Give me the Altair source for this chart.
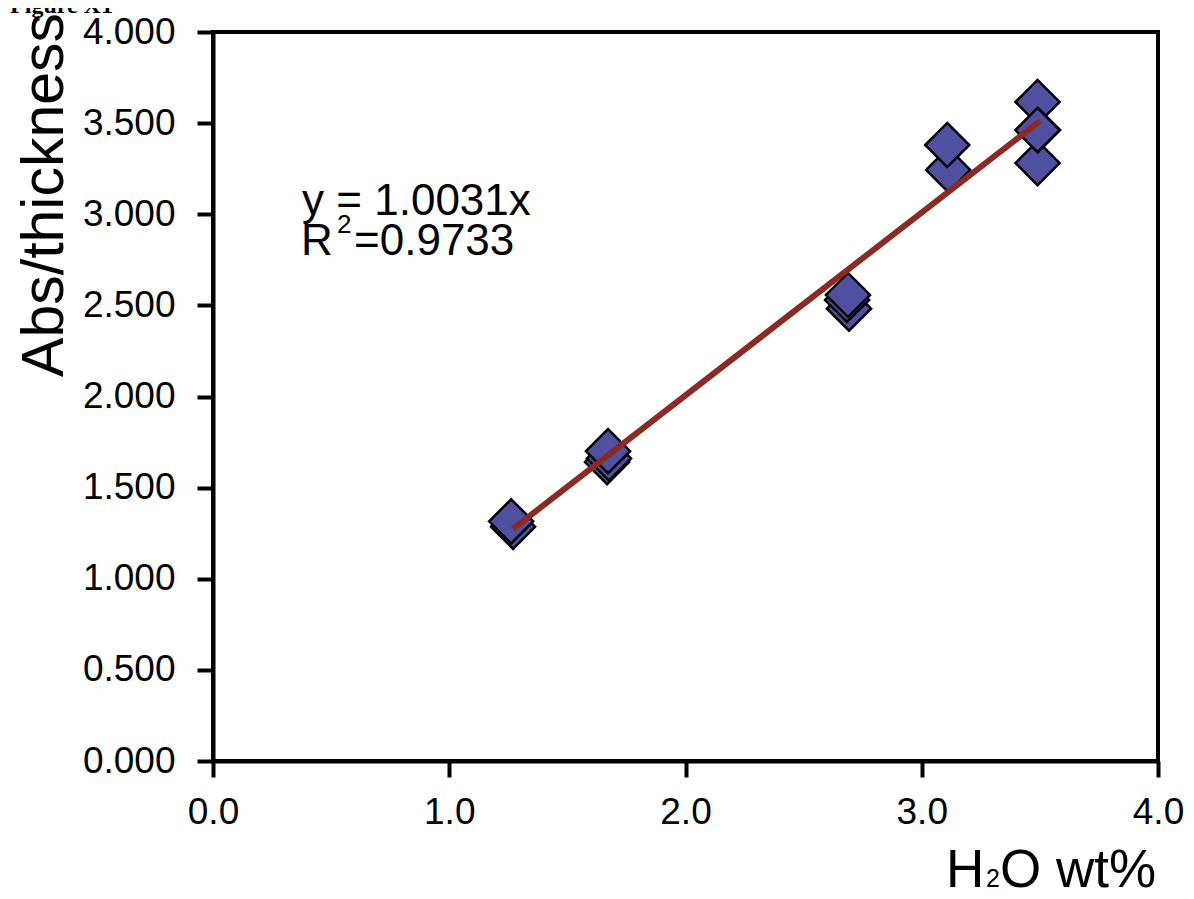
import pandas as pd
import altair as alt

# measured points (H2O wt%, Abs/thickness)
h2o = [1.270, 1.262, 1.668, 1.676, 1.672, 2.692, 2.684, 2.688, 3.112, 3.108, 3.490, 3.490, 3.492, 3.490]
abs_thk = [1.285, 1.315, 1.640, 1.660, 1.700, 2.482, 2.530, 2.557, 3.243, 3.380, 3.616, 3.281, 3.462, 3.462]

# fitted line y = 1.0031x, end points
fit_x = [1.27, 3.50]
fit_y = [1.274, 3.511]

x_ticks = [0, 1, 2, 3, 4]
y_ticks = [0, 0.5, 1, 1.5, 2, 2.5, 3, 3.5, 4]

FONT = "Liberation Sans"

pts = pd.DataFrame({"x": h2o, "y": abs_thk})
fit = pd.DataFrame({"x": fit_x, "y": fit_y})

xs = alt.Scale(domain=[0, 4], nice=False)
ys = alt.Scale(domain=[0, 4], nice=False)

base_x = alt.X(
    "x:Q", scale=xs, title=None,
    axis=alt.Axis(values=x_ticks, format=".1f", labelFlush=False, labelPadding=17),
)
base_y = alt.Y(
    "y:Q", scale=ys, title=None,
    axis=alt.Axis(values=y_ticks, format=".3f", labelPadding=22),
)

points = alt.Chart(pts).mark_point(
    shape="diamond", filled=True, fill="#5050A0", stroke="black",
    strokeWidth=2.5, size=1950, opacity=1,
).encode(x=base_x, y=base_y)

line = alt.Chart(fit).mark_line(color="#8B2A23", strokeWidth=6).encode(
    x=alt.X("x:Q", scale=xs), y=alt.Y("y:Q", scale=ys)
)

# annotation texts: label, x, y (data units), font size
labels = pd.DataFrame({
    "t": ["y = 1.0031x", "R", "2", "=0.9733", "H", "2", "O wt%"],
    "x": [0.377, 0.372, 0.525, 0.597, 3.103, 3.272, 3.331],
    "y": [2.996, 2.777, 2.897, 2.777, -0.690, -0.690, -0.690],
    "s": [44, 44, 26, 44, 53, 25, 53],
})

notes = alt.Chart(labels).mark_text(
    font=FONT, align="left", baseline="alphabetic", color="black"
).encode(
    x=alt.X("x:Q", scale=xs),
    y=alt.Y("y:Q", scale=ys),
    text="t:N",
    size=alt.Size("s:Q", scale=None, legend=None),
)

ytitle = alt.Chart(pd.DataFrame({"t": ["Abs/thickness"], "x": [-0.635], "y": [3.106]})).mark_text(
    font=FONT, fontSize=59, angle=270, align="center", baseline="alphabetic", color="black"
).encode(x=alt.X("x:Q", scale=xs), y=alt.Y("y:Q", scale=ys), text="t:N")

figlabel = alt.Chart(pd.DataFrame({"t": ["Figure X1"], "x": [-0.859], "y": [4.105]})).mark_text(
    font="Liberation Serif", fontSize=24, fontWeight="bold", align="left",
    baseline="alphabetic", color="black"
).encode(x=alt.X("x:Q", scale=xs), y=alt.Y("y:Q", scale=ys), text="t:N")

chart = (
    alt.layer(points, line, notes, ytitle, figlabel)
    .properties(
        width=945, height=729,
        autosize=alt.AutoSizeParams(type="none"),
        padding={"left": 205, "top": 24, "right": 28, "bottom": 130},
        background="white",
    )
    .configure_view(stroke="black", strokeWidth=4)
    .configure_axis(
        grid=False, domainColor="black", domainWidth=4, tickColor="black",
        tickWidth=4, tickSize=16, labelFont=FONT, labelFontSize=37,
        labelColor="black",
    )
)

chart.save("out.html", embed_options={"renderer": "svg", "actions": False})
